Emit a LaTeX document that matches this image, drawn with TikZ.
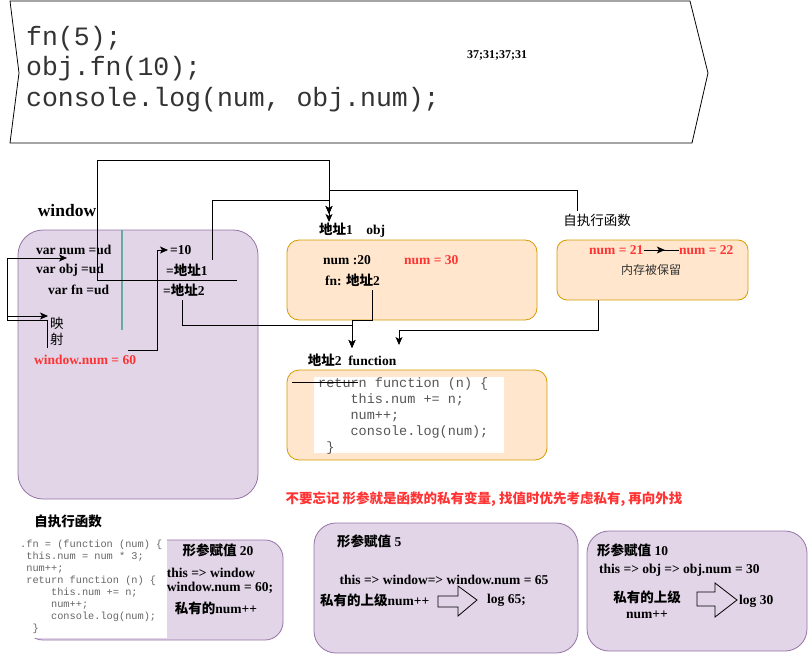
\documentclass[tikz,border=0pt]{standalone}
\usepackage{fontspec}
\usepackage{xcolor}
\usepackage{tikz}
\usetikzlibrary{calc,arrows.meta}
\setmainfont{Liberation Serif}
\setmonofont{Liberation Mono}
\newfontfamily\cjk{Noto Sans CJK SC}
\newcommand{\zh}[1]{{\cjk #1}}
\definecolor{boxpurple}{HTML}{E1D5E7}
\definecolor{linepurple}{HTML}{9673A6}
\definecolor{boxorange}{HTML}{FFE6CC}
\definecolor{lineorange}{HTML}{D79B00}
\definecolor{notered}{HTML}{FF3333}
\definecolor{splitgreen}{HTML}{67AB9F}
\definecolor{codegray}{HTML}{555555}

\begin{document}
\begin{tikzpicture}[x=1pt,y=-1pt,
  box/.style={rectangle,draw,line width=0.8pt,rounded corners=12pt},
  purplebox/.style={box,fill=boxpurple,draw=linepurple,rounded corners=22pt},
  orangebox/.style={box,fill=boxorange,draw=lineorange},
  codebg/.style={rectangle,fill=white,inner sep=0pt},
  code/.style={align=left,inner sep=0pt,text=codegray,font=\ttfamily\fontsize{13.5}{16}\selectfont},
  lbl/.style={inner sep=0pt,font=\bfseries\fontsize{13.5}{16}\selectfont},
  redlbl/.style={lbl,text=notered},
  zhlbl/.style={inner sep=0pt,font=\cjk\fontsize{13.5}{16}\selectfont},
  hollow/.style={draw,line width=0.8pt,line join=miter},
  arr/.style={-{Stealth[length=8pt,width=7pt,inset=2pt]},line width=0.8pt}]

  \useasboundingbox (0,0) rectangle (808,655);

  \draw[line width=0.8pt] (10,1) -- (690,1) -- (708,73) -- (692,143) -- (10,143) -- (19,73) -- cycle;
  \node[code,anchor=west,text=black!80,font=\ttfamily\fontsize{26.5}{30.5}\selectfont] (calls) at (26,69)
    {fn(5);\\obj.fn(10);\\console.log(num, obj.num);};
  \node[lbl,font=\bfseries\fontsize{12}{14}\selectfont] (result) at (497,55) {37;31;37;31};

  \node[lbl,font=\bfseries\fontsize{17.5}{20}\selectfont] (wintitle) at (67,211) {window};
  \node[purplebox,minimum width=240pt,minimum height=269pt,rounded corners=25pt] (win) at (138,364.5) {};
  \draw[splitgreen,line width=1.2pt] (122,230) -- (122,330);
  \node[lbl,anchor=west] (vnum) at (36,250) {var num =ud};
  \node[lbl,anchor=west] (vobj) at (36,270) {var obj =ud};
  \node[lbl,anchor=west] (vfn) at (48,290) {var fn =ud};
  \node[lbl,anchor=west,inner xsep=2pt] (val10) at (168,250) {=10};
  \node[lbl,anchor=west] (valaddr1) at (166,270) {=\zh{地址}1};
  \node[lbl,anchor=west] (valaddr2) at (163,290) {=\zh{地址}2};
  \node[zhlbl,anchor=west,align=left] (mapping) at (50,331) {映\\射};
  \node[redlbl,anchor=west] (winnum) at (34,360) {window.num = 60};

  \node[lbl] (objtitle) at (352,230) {\zh{地址}1\quad obj};
  \node[orangebox,minimum width=250pt,minimum height=80pt] (objbox) at (412,280) {};
  \node[lbl,anchor=west] (objnum) at (323,260) {num :20};
  \node[redlbl,anchor=west] (objnum30) at (404,260) {num = 30};
  \node[lbl,anchor=west] (objfn) at (325,280) {fn: \zh{地址}2};

  \node[zhlbl] (selftitle) at (597,220) {自执行函数};
  \node[orangebox,minimum width=191pt,minimum height=60pt,rounded corners=10pt] (selfbox) at (652.5,270) {};
  \node[redlbl,anchor=west] (n21) at (589,250) {num = 21};
  \node[redlbl,anchor=west] (n22) at (679,250) {num = 22};
  \node[zhlbl,text=black!80,font=\cjk\fontsize{12}{14}\selectfont] (kept) at (651,270) {内存被保留};

  \node[lbl] (fntitle) at (352,360) {\zh{地址}2\ \ function};
  \node[orangebox,minimum width=260pt,minimum height=90pt] (fnbox) at (417,415) {};
  \node[codebg,minimum width=190pt,minimum height=76pt] (fncodebg) at (409,415) {};
  \node[code,anchor=north west] (fncode) at (318,377.5)
    {return function (n) \{\\~~~~this.num += n;\\~~~~num++;\\~~~~console.log(num);\\~\}};

  \node[zhlbl,text=notered,font=\cjk\bfseries\fontsize{13.5}{16}\selectfont] (note) at (484,499)
    {不要忘记 形参就是函数的私有变量, 找值时优先考虑私有, 再向外找};

  \node[zhlbl,font=\cjk\bfseries\fontsize{13.5}{16}\selectfont] (iifetitle) at (68,521) {自执行函数};
  \node[purplebox,minimum width=258pt,minimum height=100pt,rounded corners=18pt] (box20) at (154,590) {};
  \node[codebg,minimum width=150pt,minimum height=99pt] (iifebg) at (92,588) {};
  \node[code,anchor=north west,text=black!60,font=\ttfamily\fontsize{10.3}{12}\selectfont] (iifecode) at (20,540)
    {.fn = (function (num) \{\\~this.num = num * 3;\\~num++;\\~return function (n) \{\\~~~~~this.num += n;\\~~~~~num++;\\~~~~~console.log(num);\\~~\}};
  \node[lbl] (p20) at (218,550) {\zh{形参赋值} 20};
  \node[lbl] (this20) at (211,573) {this => window};
  \node[lbl] (win60) at (220,588) {window.num = 60;};
  \node[lbl] (priv20) at (216,608) {\zh{私有的}num++};

  \node[purplebox,minimum width=264pt,minimum height=130pt] (box5) at (446,588) {};
  \node[lbl,anchor=west] (p5) at (337,541) {\zh{形参赋值} 5};
  \node[lbl] (this5) at (444,580) {this => window=> window.num = 65};
  \node[lbl,anchor=west] (priv5) at (320,600) {\zh{私有的上级}num++};
  \node[lbl,anchor=west] (log65) at (487,600) {log 65;};
  \draw[hollow] (438,596) -- (458,596) -- (458,586) -- (477,600) -- (458,616) -- (458,607) -- (438,607) -- cycle;

  \node[purplebox,minimum width=220pt,minimum height=120pt] (box10) at (697,591) {};
  \node[lbl,anchor=west] (p10) at (597,550) {\zh{形参赋值} 10};
  \node[lbl,anchor=west] (this10) at (599,570) {this => obj => obj.num = 30};
  \node[lbl,align=center] (priv10) at (647,605) {\zh{私有的上级}\\num++};
  \node[lbl,anchor=west] (log30) at (739,601) {log 30};
  \draw[hollow] (697,592) -- (715,592) -- (715,583) -- (737,600) -- (715,617) -- (715,606) -- (697,606) -- cycle;

  \coordinate (c1s) at (237,280);
  \coordinate (c2s) at (212,260);
  \coordinate (c3s) at (577,211);
  \coordinate (c4s) at (182,300);
  \coordinate (c5s) at (372,290);
  \coordinate (c6s) at (598,300);
  \coordinate (c7s) at (128,350);
  \coordinate (c8s) at (47,348);
  \coordinate (c8e) at (67,258);
  \coordinate (c9s) at (7,316);
  \coordinate (c9e) at (48,316);
  \coordinate (objin) at (329,214);
  \coordinate (objin2) at (329,222);
  \coordinate (fnin) at (352,348);
  \coordinate (fnin2) at (399,345);
  \coordinate (strayl) at (292,382);
  \coordinate (strayr) at (358,382);

  \draw[arr] (c1s) -| (97,160) -| (objin);
  \draw[arr] (c2s) |- (329,200) -- (objin2);
  \draw[arr] (c3s) |- (329,190) -- (objin);
  \draw[arr] (c4s) -- ++(0,25) -| (fnin);
  \draw[arr] (c5s) -- ++(0,30) -| (fnin);
  \draw[arr] (c6s) -- ++(0,30) -| (fnin2);
  \draw[arr] (c7s) -- ++(29,0) |- (val10.west);
  \draw[arr] (c8s) -- ++(0,-28) -- ++(-40,0) |- (c8e);
  \draw[arr] (c9s) -- (c9e);
  \draw[line width=0.8pt] (n21.east) -- (n22.west);
  \draw[arr] (n21.east) -- ($(n21.east)!0.6!(n22.west)$);
  \draw[line width=0.8pt] (strayl) -- (strayr);
\end{tikzpicture}
\end{document}
